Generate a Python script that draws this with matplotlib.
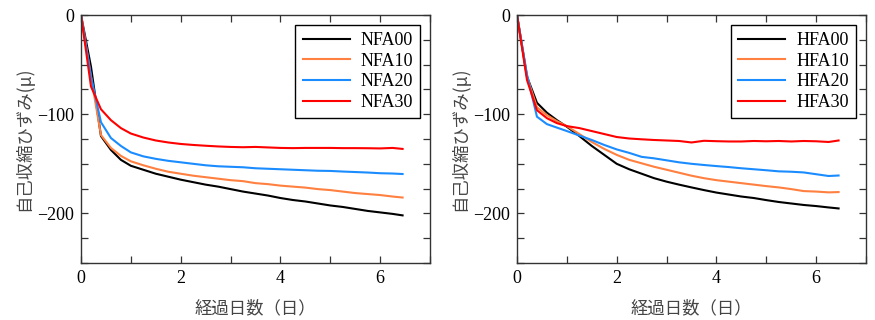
import matplotlib
matplotlib.use('Agg')
import matplotlib.pyplot as plt
from matplotlib.ticker import MultipleLocator

# elapsed days (shared sampling for all series)
days = [0, 0.2, 0.4, 0.6, 0.8, 1.0, 1.25, 1.5, 1.75, 2.0, 2.25, 2.5, 2.75, 3.0,
        3.25, 3.5, 3.75, 4.0, 4.25, 4.5, 4.75, 5.0, 5.25, 5.5, 5.75, 6.0, 6.25, 6.45]

# left panel: NFA series (autogenous shrinkage, micro strain)
nfa00 = [0, -52, -122, -136, -146, -152, -156, -160, -163, -166, -168.5, -171, -173, -175.5,
         -178, -180, -182, -184.5, -186.5, -188, -190, -192, -193.5, -195.5, -197.5, -199, -200.5, -202]
nfa10 = [0, -62, -121, -134, -142, -147.5, -151.5, -155, -158, -160, -162, -163.5, -165, -166.5,
         -167.5, -169.5, -170.5, -172, -173, -174, -175.5, -176.5, -178, -179.5, -180.5, -181.5, -183, -184]
nfa20 = [0, -62, -108, -124, -132, -138.5, -142.5, -145, -147, -148.5, -150, -151.5, -152.5, -153,
         -153.5, -154.5, -155, -155.5, -156, -156.5, -157, -157.2, -157.8, -158.3, -158.8, -159.5, -159.8, -160.3]
nfa30 = [0, -72, -95, -106, -114, -119.5, -123.5, -126.5, -128.5, -130, -131, -131.8, -132.5, -133,
         -133.3, -133, -133.5, -134, -134.2, -134, -134, -134, -134.2, -134.2, -134.3, -134.5, -134, -135]

# right panel: HFA series
hfa00 = [0, -62, -88.5, -98.5, -106, -112.6, -122, -132, -141, -150, -155.5, -160, -164.5, -168,
         -171, -173.8, -176.5, -179, -181, -183, -184.5, -186.6, -188.5, -190, -191.5, -192.6, -194, -195]
hfa10 = [0, -62, -93, -101, -107, -112, -120, -128, -135, -141, -146, -149.5, -153, -156,
         -159, -162, -164.5, -166.5, -168, -169.5, -171, -172.5, -173.8, -175.5, -177.5, -178, -178.8, -178.5]
hfa20 = [0, -60, -102.5, -110, -113.5, -117, -121.5, -126, -131, -135.5, -139, -143, -144.5, -146.5,
         -148.5, -150, -151.2, -152.3, -153.3, -154.5, -155.5, -156.5, -157.6, -158, -158.7, -160.5, -162.3, -161.8]
hfa30 = [0, -65.5, -96, -104, -109, -112, -114, -117, -120, -123, -124.5, -125.3, -126, -126.5,
         -127, -128.5, -126.8, -127.2, -127.5, -127.5, -127, -127.3, -127, -127.5, -127, -127.3, -128, -126.5]

colors = ['#000000', '#FF8040', '#1A8CFF', '#FF0000']
jp_font = ['Noto Sans CJK JP', 'DejaVu Sans']

plt.rcParams['font.family'] = ['Liberation Serif', 'DejaVu Serif']

fig = plt.figure(figsize=(8.75, 3.2), dpi=100)
ax1 = fig.add_axes([81 / 875, 57 / 320, 349 / 875, 248 / 320])
ax2 = fig.add_axes([517 / 875, 57 / 320, 349 / 875, 248 / 320])

panels = [
    (ax1, [nfa00, nfa10, nfa20, nfa30], ['NFA00', 'NFA10', 'NFA20', 'NFA30']),
    (ax2, [hfa00, hfa10, hfa20, hfa30], ['HFA00', 'HFA10', 'HFA20', 'HFA30']),
]

for ax, series, names in panels:
    for vals, name, c in zip(series, names, colors):
        ax.plot(days, vals, color=c, lw=1.5, label=name)
    ax.set_xlim(0, 7)
    ax.set_ylim(-250, 0)
    ax.xaxis.set_major_locator(MultipleLocator(2))
    ax.xaxis.set_minor_locator(MultipleLocator(1))
    ax.yaxis.set_major_locator(MultipleLocator(100))
    ax.yaxis.set_minor_locator(MultipleLocator(25))
    ax.tick_params(which='both', direction='in', top=True, right=True,
                   length=5, width=0.9, color='#333333', labelsize=13, pad=5)
    for sp in ax.spines.values():
        sp.set_color('#333333')
        sp.set_linewidth(1.0)
    ax.set_xlabel('経過日数（日）', family=jp_font, fontsize=12.5, color='#444444', labelpad=9)
    ax.set_ylabel('自己収縮ひずみ(μ)', family=jp_font, fontsize=12.5, color='#444444', labelpad=3)
    leg = ax.legend(loc='upper right', fontsize=13, frameon=True, fancybox=False,
                    edgecolor='#000000', framealpha=1, handlelength=2.6,
                    handletextpad=0.6, labelspacing=0.2, borderpad=0.4,
                    borderaxespad=0.55)
    leg.get_frame().set_linewidth(1.0)

fig.savefig('out.png', dpi=100)
